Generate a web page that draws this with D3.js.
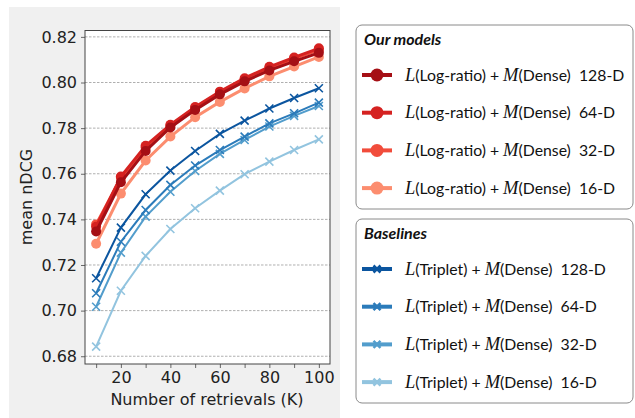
<!DOCTYPE html>
<html>
<head>
<meta charset="utf-8">
<script src="https://cdn.jsdelivr.net/npm/d3@7"></script>
<style>
body { margin: 0; background: #fff; }
text { white-space: pre; }
</style>
</head>
<body>
<script>
// retrieval counts on the x axis
var ks = [10, 20, 30, 40, 50, 60, 70, 80, 90, 100];

// mean nDCG, our models (log-ratio loss)
var logRatio128 = [0.7347, 0.7563, 0.7700, 0.7803, 0.7880, 0.7948, 0.8005, 0.8053, 0.8093, 0.8130];
var logRatio64 = [0.7368, 0.7588, 0.7723, 0.7815, 0.7893, 0.7960, 0.8019, 0.8069, 0.8110, 0.8150];
var logRatio32 = [0.7378, 0.7582, 0.7715, 0.7810, 0.7888, 0.7955, 0.8013, 0.8063, 0.8105, 0.8143];
var logRatio16 = [0.7293, 0.7513, 0.7658, 0.7763, 0.7848, 0.7915, 0.7974, 0.8027, 0.8070, 0.8112];

// mean nDCG, baselines (triplet loss)
var triplet128 = [0.7142, 0.7364, 0.7510, 0.7614, 0.7700, 0.7775, 0.7833, 0.7886, 0.7932, 0.7975];
var triplet64 = [0.7076, 0.7302, 0.7441, 0.7551, 0.7636, 0.7704, 0.7763, 0.7821, 0.7865, 0.7912];
var triplet32 = [0.7017, 0.7254, 0.7412, 0.7521, 0.7612, 0.7687, 0.7748, 0.7807, 0.7854, 0.7897];
var triplet16 = [0.6842, 0.7087, 0.7240, 0.7358, 0.7449, 0.7526, 0.7598, 0.7653, 0.7704, 0.7751];

var yTicks = [0.68, 0.70, 0.72, 0.74, 0.76, 0.78, 0.80, 0.82];
var xTickLabels = [20, 40, 60, 80, 100];
var dims = ["128-D", "64-D", "32-D", "16-D"];

var redColors = ["#a50f15", "#d52221", "#f14c3b", "#fc8d6f"];
var blueColors = ["#0b559f", "#2b7bba", "#529dcc", "#92c4df"];

var ours = [logRatio128, logRatio64, logRatio32, logRatio16];
var baselines = [triplet128, triplet64, triplet32, triplet16];

var W = 635, H = 418;
var plot = { left: 85, top: 30.5, right: 330, bottom: 364 };

var svg = d3.select("body").append("svg")
    .attr("width", W)
    .attr("height", H);

// grey figure panel
svg.append("rect")
    .attr("x", 9).attr("y", 7)
    .attr("width", 331).attr("height", 411)
    .attr("fill", "#f0f0f0");

svg.append("rect")
    .attr("x", plot.left).attr("y", plot.top)
    .attr("width", plot.right - plot.left)
    .attr("height", plot.bottom - plot.top)
    .attr("fill", "#fff");

var x = d3.scaleLinear().domain([5.5, 104.5]).range([plot.left, plot.right]);
var y = d3.scaleLinear().domain([0.6766, 0.8228]).range([plot.bottom, plot.top]);

// grid
svg.append("g").selectAll("line")
    .data(yTicks)
    .enter().append("line")
    .attr("x1", plot.left).attr("x2", plot.right)
    .attr("y1", function(d) { return y(d); })
    .attr("y2", function(d) { return y(d); })
    .attr("stroke", "#9a9a9a")
    .attr("stroke-width", 0.8)
    .attr("stroke-dasharray", "2.5,1.5");

var font = "'DejaVu Sans', sans-serif";

var yAxis = svg.append("g")
    .attr("transform", "translate(" + plot.left + ",0)")
    .call(d3.axisLeft(y).tickValues(yTicks).tickFormat(d3.format(".2f")).tickSize(4).tickPadding(4));
var xAxis = svg.append("g")
    .attr("transform", "translate(0," + plot.bottom + ")")
    .call(d3.axisBottom(x).tickValues(ks)
        .tickFormat(function(d) { return xTickLabels.indexOf(d) >= 0 ? d : ""; })
        .tickSize(4).tickPadding(4));

[yAxis, xAxis].forEach(function(a) {
    a.select(".domain").remove();
    a.selectAll("line").attr("stroke", "#444").attr("stroke-width", 0.8);
    a.selectAll("text")
        .attr("fill", "#222")
        .style("font-family", font)
        .style("font-size", "16px");
});

// frame
svg.append("rect")
    .attr("x", plot.left).attr("y", plot.top)
    .attr("width", plot.right - plot.left)
    .attr("height", plot.bottom - plot.top)
    .attr("fill", "none")
    .attr("stroke", "#444")
    .attr("stroke-width", 1);

svg.append("text")
    .attr("x", 207).attr("y", 405)
    .attr("text-anchor", "middle")
    .style("font-family", font).style("font-size", "16px")
    .attr("fill", "#222")
    .text("Number of retrievals (K)");

svg.append("text")
    .attr("transform", "translate(32,197) rotate(-90)")
    .attr("text-anchor", "middle")
    .style("font-family", font).style("font-size", "16px")
    .attr("fill", "#222")
    .text("mean nDCG");

var line = d3.line()
    .x(function(d, i) { return x(ks[i]); })
    .y(function(d) { return y(d); });

var marks = svg.append("g");

function crossPath(s) {
    return "M" + (-s) + "," + (-s) + "L" + s + "," + s + "M" + (-s) + "," + s + "L" + s + "," + (-s);
}

// baselines: thin lines with x markers
baselines.slice().reverse().forEach(function(vals, j) {
    var c = blueColors[3 - j];
    var g = marks.append("g");
    g.append("path")
        .attr("d", line(vals))
        .attr("fill", "none")
        .attr("stroke", c)
        .attr("stroke-width", 2);
    g.selectAll("path.mk")
        .data(vals)
        .enter().append("path")
        .attr("class", "mk")
        .attr("transform", function(d, i) { return "translate(" + x(ks[i]) + "," + y(d) + ")"; })
        .attr("d", crossPath(4))
        .attr("stroke", c)
        .attr("stroke-width", 1.6);
});

// our models: thick lines with circle markers
ours.slice().reverse().forEach(function(vals, j) {
    var c = redColors[3 - j];
    var g = marks.append("g");
    g.append("path")
        .attr("d", line(vals))
        .attr("fill", "none")
        .attr("stroke", c)
        .attr("stroke-width", 3);
    g.selectAll("circle")
        .data(vals)
        .enter().append("circle")
        .attr("cx", function(d, i) { return x(ks[i]); })
        .attr("cy", function(d) { return y(d); })
        .attr("r", 5)
        .attr("fill", c);
});

// legends
var lfont = "Lato, 'Open Sans', sans-serif";
var serif = "'Liberation Serif', 'DejaVu Serif', serif";

function legendBox(top, bottom, title, names, colors, marker) {
    svg.append("rect")
        .attr("x", 356).attr("y", top)
        .attr("width", 277).attr("height", bottom - top)
        .attr("rx", 6)
        .attr("fill", "#fff")
        .attr("stroke", "#8a8a8a")
        .attr("stroke-width", 1);
    svg.append("text")
        .attr("x", 364).attr("y", top + 20)
        .style("font-family", lfont).style("font-size", "16px")
        .style("font-weight", "bold").style("font-style", "italic")
        .attr("fill", "#111")
        .text(title);
    names.forEach(function(n, i) {
        var cy = top + 50 + i * 37.7;
        svg.append("line")
            .attr("x1", 362).attr("x2", 392)
            .attr("y1", cy).attr("y2", cy)
            .attr("stroke", colors[i]).attr("stroke-width", 4);
        if (marker === "circle") {
            svg.append("circle")
                .attr("cx", 377).attr("cy", cy).attr("r", 6.5)
                .attr("fill", colors[i]);
        } else {
            svg.append("path")
                .attr("transform", "translate(377," + cy + ")")
                .attr("d", crossPath(3.5))
                .attr("stroke", colors[i]).attr("stroke-width", 2.5);
        }
        var t = svg.append("text")
            .attr("x", 405).attr("y", cy + 5.5)
            .style("font-family", lfont).style("font-size", "15.8px")
            .attr("fill", "#111");
        t.append("tspan").style("font-family", serif).style("font-style", "italic").style("font-size", "18.5px").text("L");
        t.append("tspan").text(n[0]);
        t.append("tspan").style("font-family", serif).style("font-style", "italic").style("font-size", "18.5px").text("M");
        t.append("tspan").text("(Dense)  " + n[1]);
    });
}

legendBox(25, 209, "Our models",
    dims.map(function(d) { return ["(Log-ratio) + ", d]; }), redColors, "circle");
legendBox(219, 403, "Baselines",
    dims.map(function(d) { return ["(Triplet) + ", d]; }), blueColors, "cross");
</script>
</body>
</html>
